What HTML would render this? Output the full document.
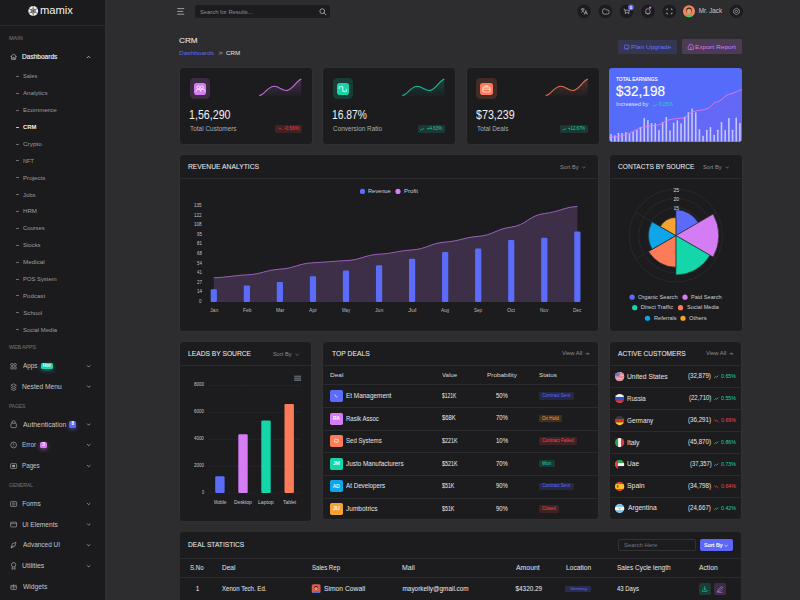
<!DOCTYPE html>
<html><head><meta charset="utf-8"><style>
html,body{margin:0;padding:0;}
body{width:800px;height:600px;overflow:hidden;background:#2d2d30;position:relative;font-family:"Liberation Sans", sans-serif;}
.t{position:absolute;white-space:nowrap;line-height:1;transform-origin:0 0;}
.b{position:absolute;}
svg.ov{position:absolute;left:0;top:0;}
</style></head><body>
<div class="b" style="left:0.00px;top:0.00px;width:105.00px;height:600.00px;background:#1b1b1e;border-radius:0px;"></div>
<div class="b" style="left:105.00px;top:0.00px;width:1.50px;height:600.00px;background:#302f34;border-radius:0px;"></div>
<div class="b" style="left:0.00px;top:25.00px;width:105.00px;height:0.80px;background:#28282b;border-radius:0px;"></div>
<div class="t" style="left:39.82px;top:5.06px;font-size:10.8px;color:#f0f0f0;transform:scaleX(1.036);">mamix</div>
<div class="t" style="left:8.52px;top:36.59px;font-size:4.5px;color:#66666b;transform:scaleX(1.206);-webkit-text-stroke:0.12px #66666b;">MAIN</div>
<div class="t" style="left:22.33px;top:53.71px;font-size:6.6px;color:#ececee;transform:scaleX(0.994);-webkit-text-stroke:0.15px #ececee;">Dashboards</div>
<div class="b" style="left:15.60px;top:76.00px;width:3.30px;height:0.70px;background:#6e6e73;border-radius:0px;"></div>
<div class="t" style="left:23.19px;top:73.45px;font-size:6.2px;color:#9b9ba0;transform:scaleX(0.920);">Sales</div>
<div class="b" style="left:15.60px;top:92.88px;width:3.30px;height:0.70px;background:#6e6e73;border-radius:0px;"></div>
<div class="t" style="left:23.45px;top:90.33px;font-size:6.2px;color:#9b9ba0;transform:scaleX(0.988);">Analytics</div>
<div class="b" style="left:15.60px;top:109.76px;width:3.30px;height:0.70px;background:#6e6e73;border-radius:0px;"></div>
<div class="t" style="left:22.94px;top:107.21px;font-size:6.2px;color:#9b9ba0;transform:scaleX(1.022);">Ecommerce</div>
<div class="b" style="left:15.60px;top:126.64px;width:3.30px;height:0.70px;background:#c0c0c4;border-radius:0px;"></div>
<div class="t" style="left:23.21px;top:124.09px;font-size:6.2px;color:#f0f0f2;font-weight:700;transform:scaleX(0.951);">CRM</div>
<div class="b" style="left:15.60px;top:143.52px;width:3.30px;height:0.70px;background:#6e6e73;border-radius:0px;"></div>
<div class="t" style="left:23.13px;top:140.97px;font-size:6.2px;color:#9b9ba0;transform:scaleX(1.034);">Crypto</div>
<div class="b" style="left:15.60px;top:160.40px;width:3.30px;height:0.70px;background:#6e6e73;border-radius:0px;"></div>
<div class="t" style="left:23.00px;top:157.85px;font-size:6.2px;color:#9b9ba0;transform:scaleX(0.900);">NFT</div>
<div class="b" style="left:15.60px;top:177.28px;width:3.30px;height:0.70px;background:#6e6e73;border-radius:0px;"></div>
<div class="t" style="left:22.96px;top:174.73px;font-size:6.2px;color:#9b9ba0;">Projects</div>
<div class="b" style="left:15.60px;top:194.16px;width:3.30px;height:0.70px;background:#6e6e73;border-radius:0px;"></div>
<div class="t" style="left:23.36px;top:191.61px;font-size:6.2px;color:#9b9ba0;transform:scaleX(0.947);">Jobs</div>
<div class="b" style="left:15.60px;top:211.04px;width:3.30px;height:0.70px;background:#6e6e73;border-radius:0px;"></div>
<div class="t" style="left:22.95px;top:208.49px;font-size:6.2px;color:#9b9ba0;">HRM</div>
<div class="b" style="left:15.60px;top:227.92px;width:3.30px;height:0.70px;background:#6e6e73;border-radius:0px;"></div>
<div class="t" style="left:23.16px;top:225.37px;font-size:6.2px;color:#9b9ba0;transform:scaleX(0.935);">Courses</div>
<div class="b" style="left:15.60px;top:244.80px;width:3.30px;height:0.70px;background:#6e6e73;border-radius:0px;"></div>
<div class="t" style="left:23.19px;top:242.25px;font-size:6.2px;color:#9b9ba0;transform:scaleX(0.945);">Stocks</div>
<div class="b" style="left:15.60px;top:261.68px;width:3.30px;height:0.70px;background:#6e6e73;border-radius:0px;"></div>
<div class="t" style="left:22.95px;top:259.13px;font-size:6.2px;color:#9b9ba0;transform:scaleX(1.017);">Medical</div>
<div class="b" style="left:15.60px;top:278.56px;width:3.30px;height:0.70px;background:#6e6e73;border-radius:0px;"></div>
<div class="t" style="left:22.98px;top:276.01px;font-size:6.2px;color:#9b9ba0;transform:scaleX(0.948);">POS System</div>
<div class="b" style="left:15.60px;top:295.44px;width:3.30px;height:0.70px;background:#6e6e73;border-radius:0px;"></div>
<div class="t" style="left:22.96px;top:292.89px;font-size:6.2px;color:#9b9ba0;transform:scaleX(0.988);">Podcast</div>
<div class="b" style="left:15.60px;top:312.32px;width:3.30px;height:0.70px;background:#6e6e73;border-radius:0px;"></div>
<div class="t" style="left:23.17px;top:309.77px;font-size:6.2px;color:#9b9ba0;">School</div>
<div class="b" style="left:15.60px;top:329.20px;width:3.30px;height:0.70px;background:#6e6e73;border-radius:0px;"></div>
<div class="t" style="left:23.18px;top:326.65px;font-size:6.2px;color:#9b9ba0;transform:scaleX(0.960);">Social Media</div>
<div class="t" style="left:8.92px;top:346.29px;font-size:4.5px;color:#66666b;transform:scaleX(1.160);-webkit-text-stroke:0.12px #66666b;">WEB APPS</div>
<div class="t" style="left:22.75px;top:363.41px;font-size:6.6px;color:#c4c4c8;transform:scaleX(0.965);">Apps</div>
<div class="b" style="left:40.50px;top:363.10px;width:12.50px;height:6.30px;background:#14d6ab;border-radius:1.5px;box-shadow:0 1.5px 4px rgba(31,213,173,0.45);"></div>
<div class="t" style="left:42.80px;top:364.11px;font-size:4.6px;color:#ffffff;font-weight:700;">Hot</div>
<div class="t" style="left:22.21px;top:383.71px;font-size:6.6px;color:#c4c4c8;transform:scaleX(1.014);">Nested Menu</div>
<div class="t" style="left:8.56px;top:404.59px;font-size:4.5px;color:#66666b;transform:scaleX(1.075);-webkit-text-stroke:0.12px #66666b;">PAGES</div>
<div class="t" style="left:22.75px;top:421.61px;font-size:6.6px;color:#c4c4c8;transform:scaleX(1.039);">Authentication</div>
<div class="b" style="left:69.30px;top:421.30px;width:7.00px;height:6.30px;background:#5c67f7;border-radius:1.5px;box-shadow:0 1.5px 4px rgba(92,103,247,0.5);"></div>
<div class="t" style="left:71.52px;top:422.31px;font-size:4.6px;color:#ffffff;font-weight:700;">8</div>
<div class="t" style="left:22.24px;top:442.11px;font-size:6.6px;color:#c4c4c8;transform:scaleX(0.963);">Error</div>
<div class="b" style="left:40.00px;top:442.00px;width:6.80px;height:6.30px;background:#d57cf5;border-radius:1.5px;box-shadow:0 1.5px 4px rgba(213,124,245,0.5);"></div>
<div class="t" style="left:42.15px;top:443.01px;font-size:4.6px;color:#ffffff;font-weight:700;">3</div>
<div class="t" style="left:22.25px;top:463.11px;font-size:6.6px;color:#c4c4c8;transform:scaleX(0.947);">Pages</div>
<div class="t" style="left:8.70px;top:484.19px;font-size:4.5px;color:#66666b;transform:scaleX(1.111);-webkit-text-stroke:0.12px #66666b;">GENERAL</div>
<div class="t" style="left:22.22px;top:501.11px;font-size:6.6px;color:#c4c4c8;">Forms</div>
<div class="t" style="left:22.25px;top:521.61px;font-size:6.6px;color:#c4c4c8;">Ui Elements</div>
<div class="t" style="left:22.75px;top:542.31px;font-size:6.6px;color:#c4c4c8;transform:scaleX(0.981);">Advanced UI</div>
<div class="t" style="left:22.23px;top:563.31px;font-size:6.6px;color:#c4c4c8;transform:scaleX(1.046);">Utilities</div>
<div class="t" style="left:22.72px;top:584.11px;font-size:6.6px;color:#c4c4c8;transform:scaleX(1.019);">Widgets</div>
<div class="b" style="left:195.10px;top:4.90px;width:134.90px;height:13.40px;background:#1c1c1f;border-radius:2.5px;"></div>
<div class="t" style="left:199.89px;top:9.74px;font-size:5.5px;color:#8e8e94;transform:scaleX(1.056);">Search for Results...</div>
<div class="t" style="left:698.65px;top:8.37px;font-size:6.3px;color:#c9c9ce;">Mr. Jack</div>
<div class="t" style="left:178.84px;top:37.04px;font-size:8.1px;color:#ececee;transform:scaleX(1.007);-webkit-text-stroke:0.08px #ececee;">CRM</div>
<div class="t" style="left:178.73px;top:50.22px;font-size:6.0px;color:#5c67f7;transform:scaleX(1.084);">Dashboards</div>
<div class="t" style="left:226.44px;top:50.22px;font-size:6.0px;color:#e6e6e8;transform:scaleX(1.033);">CRM</div>
<div class="b" style="left:618.40px;top:39.90px;width:58.60px;height:13.80px;background:rgba(92,103,247,0.17);border-radius:1.5px;"></div>
<div class="t" style="left:631.32px;top:43.75px;font-size:6.2px;color:#6a74f8;transform:scaleX(1.061);">Plan Upgrade</div>
<div class="b" style="left:682.30px;top:39.40px;width:59.50px;height:14.85px;background:rgba(213,124,245,0.19);border-radius:1.5px;"></div>
<div class="t" style="left:695.22px;top:43.75px;font-size:6.2px;color:#d57cf5;transform:scaleX(1.069);">Export Report</div>
<div class="b" style="left:180.00px;top:68.20px;width:132.00px;height:75.80px;background:#1c1c1f;border-radius:3.5px;box-shadow:0 0 0 0.7px rgba(255,255,255,0.025);"></div>
<div class="b" style="left:189.75px;top:78.20px;width:20.35px;height:20.70px;background:#d57cf5;border-radius:4.5px;opacity:0.17;"></div>
<div class="b" style="left:193.90px;top:82.75px;width:12.20px;height:12.15px;background:#d57cf5;border-radius:2.8px;"></div>
<div class="t" style="left:188.85px;top:108.84px;font-size:12.0px;color:#f0f0f2;transform:scaleX(0.888);">1,56,290</div>
<div class="t" style="left:190.22px;top:126.48px;font-size:6.4px;color:#ababb0;transform:scaleX(1.009);">Total Customers</div>
<div class="b" style="left:275.25px;top:125.30px;width:26.25px;height:7.60px;background:rgba(251,66,66,0.17);border-radius:1.2px;"></div>
<div class="t" style="left:283.63px;top:127.01px;font-size:4.6px;color:#f03e3e;transform:scaleX(1.041);">-0.56%</div>
<div class="b" style="left:323.00px;top:68.20px;width:132.00px;height:75.80px;background:#1c1c1f;border-radius:3.5px;box-shadow:0 0 0 0.7px rgba(255,255,255,0.025);"></div>
<div class="b" style="left:332.75px;top:78.20px;width:20.35px;height:20.70px;background:#14d6ab;border-radius:4.5px;opacity:0.17;"></div>
<div class="b" style="left:336.90px;top:82.75px;width:12.20px;height:12.15px;background:#14d6ab;border-radius:2.8px;"></div>
<div class="t" style="left:331.88px;top:108.84px;font-size:12.0px;color:#f0f0f2;transform:scaleX(0.857);">16.87%</div>
<div class="t" style="left:333.03px;top:126.48px;font-size:6.4px;color:#ababb0;">Conversion Ratio</div>
<div class="b" style="left:417.50px;top:125.30px;width:27.00px;height:7.60px;background:rgba(31,213,173,0.15);border-radius:1.2px;"></div>
<div class="t" style="left:426.63px;top:127.01px;font-size:4.6px;color:#14d6ab;transform:scaleX(0.965);">+4.63%</div>
<div class="b" style="left:466.50px;top:68.20px;width:132.00px;height:75.80px;background:#1c1c1f;border-radius:3.5px;box-shadow:0 0 0 0.7px rgba(255,255,255,0.025);"></div>
<div class="b" style="left:476.25px;top:78.20px;width:20.35px;height:20.70px;background:#fe7b58;border-radius:4.5px;opacity:0.17;"></div>
<div class="b" style="left:480.40px;top:82.75px;width:12.20px;height:12.15px;background:#fe7b58;border-radius:2.8px;"></div>
<div class="t" style="left:476.04px;top:108.84px;font-size:12.0px;color:#f0f0f2;transform:scaleX(0.890);">$73,239</div>
<div class="t" style="left:476.72px;top:126.48px;font-size:6.4px;color:#ababb0;transform:scaleX(0.991);">Total Deals</div>
<div class="b" style="left:560.00px;top:125.30px;width:28.00px;height:7.60px;background:rgba(31,213,173,0.15);border-radius:1.2px;"></div>
<div class="t" style="left:568.13px;top:127.01px;font-size:4.6px;color:#14d6ab;transform:scaleX(0.939);">+12.67%</div>
<div class="b" style="left:609.00px;top:68.00px;width:133.00px;height:73.60px;background:#556cfb;border-radius:3px;"></div>
<div class="t" style="left:616.45px;top:76.77px;font-size:5.0px;color:#ffffff;transform:scaleX(0.969);-webkit-text-stroke:0.12px #fff;">TOTAL EARNINGS</div>
<div class="t" style="left:616.21px;top:84.73px;font-size:13.9px;color:#ffffff;transform:scaleX(0.975);-webkit-text-stroke:0.15px #fff;">$32,198</div>
<div class="t" style="left:616.04px;top:102.29px;font-size:5.8px;color:#dfe2ff;transform:scaleX(0.973);">Increased by</div>
<div class="t" style="left:659.36px;top:102.29px;font-size:5.8px;color:#22d8b0;transform:scaleX(0.831);">0.25%</div>
<div class="b" style="left:180.00px;top:155.20px;width:417.80px;height:175.60px;background:#1c1c1f;border-radius:3.5px;box-shadow:0 0 0 0.7px rgba(255,255,255,0.025);"></div>
<div class="b" style="left:180.00px;top:178.00px;width:417.80px;height:0.80px;background:#2b2b2f;border-radius:0px;"></div>
<div class="t" style="left:188.11px;top:163.12px;font-size:7.6px;color:#ececee;transform:scaleX(0.887);-webkit-text-stroke:0.04px #ececee;">REVENUE ANALYTICS</div>
<div class="t" style="left:559.80px;top:164.66px;font-size:5.6px;color:#8e8e94;transform:scaleX(1.010);">Sort By</div>
<div class="t" style="left:368.40px;top:189.19px;font-size:5.8px;color:#d0d0d4;transform:scaleX(0.970);">Revenue</div>
<div class="t" style="left:403.88px;top:189.19px;font-size:5.8px;color:#d0d0d4;transform:scaleX(1.021);">Profit</div>
<div class="t" style="left:194.01px;top:203.04px;font-size:5.5px;color:#c3c3c8;transform:scaleX(0.821);">135</div>
<div class="t" style="left:194.01px;top:212.62px;font-size:5.5px;color:#c3c3c8;transform:scaleX(0.826);">122</div>
<div class="t" style="left:194.01px;top:222.20px;font-size:5.5px;color:#c3c3c8;transform:scaleX(0.821);">108</div>
<div class="t" style="left:196.65px;top:231.78px;font-size:5.5px;color:#c3c3c8;transform:scaleX(0.798);">95</div>
<div class="t" style="left:196.65px;top:241.36px;font-size:5.5px;color:#c3c3c8;transform:scaleX(0.802);">81</div>
<div class="t" style="left:196.63px;top:250.94px;font-size:5.5px;color:#c3c3c8;transform:scaleX(0.802);">68</div>
<div class="t" style="left:196.68px;top:260.52px;font-size:5.5px;color:#c3c3c8;transform:scaleX(0.787);">54</div>
<div class="t" style="left:196.76px;top:270.10px;font-size:5.5px;color:#c3c3c8;transform:scaleX(0.783);">41</div>
<div class="t" style="left:196.63px;top:279.68px;font-size:5.5px;color:#c3c3c8;transform:scaleX(0.810);">27</div>
<div class="t" style="left:196.51px;top:289.26px;font-size:5.5px;color:#c3c3c8;transform:scaleX(0.814);">14</div>
<div class="t" style="left:199.07px;top:298.84px;font-size:5.5px;color:#c3c3c8;transform:scaleX(0.795);">0</div>
<div class="t" style="left:209.82px;top:307.99px;font-size:5.8px;color:#b8b8bd;transform:scaleX(0.879);">Jan</div>
<div class="t" style="left:242.56px;top:307.99px;font-size:5.8px;color:#b8b8bd;transform:scaleX(0.841);">Feb</div>
<div class="t" style="left:275.62px;top:307.99px;font-size:5.8px;color:#b8b8bd;transform:scaleX(0.828);">Mar</div>
<div class="t" style="left:309.05px;top:307.99px;font-size:5.8px;color:#b8b8bd;transform:scaleX(0.873);">Apr</div>
<div class="t" style="left:341.76px;top:307.99px;font-size:5.8px;color:#b8b8bd;transform:scaleX(0.743);">May</div>
<div class="t" style="left:375.07px;top:307.99px;font-size:5.8px;color:#b8b8bd;transform:scaleX(0.879);">Jun</div>
<div class="t" style="left:408.10px;top:307.99px;font-size:5.8px;color:#b8b8bd;transform:scaleX(1.125);">Jul</div>
<div class="t" style="left:441.25px;top:307.99px;font-size:5.8px;color:#b8b8bd;transform:scaleX(0.784);">Aug</div>
<div class="t" style="left:474.09px;top:307.99px;font-size:5.8px;color:#b8b8bd;transform:scaleX(0.793);">Sep</div>
<div class="t" style="left:507.12px;top:307.99px;font-size:5.8px;color:#b8b8bd;transform:scaleX(0.894);">Oct</div>
<div class="t" style="left:540.03px;top:307.99px;font-size:5.8px;color:#b8b8bd;transform:scaleX(0.793);">Nov</div>
<div class="t" style="left:573.08px;top:307.99px;font-size:5.8px;color:#b8b8bd;transform:scaleX(0.803);">Dec</div>
<div class="b" style="left:609.50px;top:155.00px;width:132.00px;height:175.80px;background:#1c1c1f;border-radius:3.5px;box-shadow:0 0 0 0.7px rgba(255,255,255,0.025);"></div>
<div class="b" style="left:609.50px;top:178.00px;width:132.00px;height:0.80px;background:#2b2b2f;border-radius:0px;"></div>
<div class="t" style="left:618.02px;top:163.02px;font-size:7.6px;color:#ececee;transform:scaleX(0.870);-webkit-text-stroke:0.04px #ececee;">CONTACTS BY SOURCE</div>
<div class="t" style="left:703.10px;top:164.66px;font-size:5.6px;color:#8e8e94;transform:scaleX(1.010);">Sort By</div>
<div class="t" style="left:638.29px;top:294.89px;font-size:5.8px;color:#cfcfd3;transform:scaleX(0.984);">Organic Search</div>
<div class="t" style="left:691.00px;top:294.89px;font-size:5.8px;color:#cfcfd3;transform:scaleX(0.969);">Paid Search</div>
<div class="t" style="left:640.69px;top:305.39px;font-size:5.8px;color:#cfcfd3;">Direct Traffic</div>
<div class="t" style="left:686.70px;top:305.39px;font-size:5.8px;color:#cfcfd3;transform:scaleX(0.959);">Social Media</div>
<div class="t" style="left:653.50px;top:315.94px;font-size:5.8px;color:#cfcfd3;transform:scaleX(0.963);">Referrals</div>
<div class="t" style="left:689.19px;top:315.94px;font-size:5.8px;color:#cfcfd3;transform:scaleX(1.010);">Others</div>
<div class="b" style="left:179.80px;top:342.30px;width:131.70px;height:178.30px;background:#1c1c1f;border-radius:3.5px;box-shadow:0 0 0 0.7px rgba(255,255,255,0.025);"></div>
<div class="b" style="left:179.80px;top:364.70px;width:131.70px;height:0.80px;background:#2b2b2f;border-radius:0px;"></div>
<div class="t" style="left:187.81px;top:350.02px;font-size:7.6px;color:#ececee;transform:scaleX(0.880);-webkit-text-stroke:0.04px #ececee;">LEADS BY SOURCE</div>
<div class="t" style="left:273.10px;top:351.86px;font-size:5.6px;color:#8e8e94;transform:scaleX(1.010);">Sort By</div>
<div class="t" style="left:194.05px;top:383.31px;font-size:4.6px;color:#c8c8cc;transform:scaleX(0.973);">8000</div>
<div class="t" style="left:194.03px;top:410.16px;font-size:4.6px;color:#c8c8cc;transform:scaleX(0.975);">6000</div>
<div class="t" style="left:194.16px;top:437.01px;font-size:4.6px;color:#c8c8cc;transform:scaleX(0.962);">4000</div>
<div class="t" style="left:194.03px;top:463.86px;font-size:4.6px;color:#c8c8cc;transform:scaleX(0.975);">2000</div>
<div class="t" style="left:201.79px;top:490.71px;font-size:4.6px;color:#c8c8cc;transform:scaleX(0.861);">0</div>
<div class="t" style="left:213.67px;top:500.27px;font-size:5.0px;color:#c8c8cc;transform:scaleX(0.837);">Mobile</div>
<div class="t" style="left:234.06px;top:500.27px;font-size:5.0px;color:#c8c8cc;transform:scaleX(0.965);">Desktop</div>
<div class="t" style="left:258.09px;top:500.27px;font-size:5.0px;color:#c8c8cc;transform:scaleX(1.020);">Laptop</div>
<div class="t" style="left:282.65px;top:500.27px;font-size:5.0px;color:#c8c8cc;transform:scaleX(0.977);">Tablet</div>
<div class="b" style="left:323.20px;top:342.00px;width:274.80px;height:177.30px;background:#1c1c1f;border-radius:3.5px;box-shadow:0 0 0 0.7px rgba(255,255,255,0.025);"></div>
<div class="b" style="left:323.20px;top:364.70px;width:274.80px;height:0.80px;background:#2b2b2f;border-radius:0px;"></div>
<div class="t" style="left:331.71px;top:349.87px;font-size:7.6px;color:#ececee;transform:scaleX(0.891);-webkit-text-stroke:0.04px #ececee;">TOP DEALS</div>
<div class="t" style="left:562.32px;top:350.86px;font-size:5.6px;color:#8e8e94;transform:scaleX(1.037);">View All</div>
<div class="t" style="left:330.43px;top:372.99px;font-size:5.8px;color:#d8d8dc;transform:scaleX(1.128);">Deal</div>
<div class="t" style="left:442.02px;top:372.99px;font-size:5.8px;color:#d8d8dc;transform:scaleX(1.050);">Value</div>
<div class="t" style="left:486.84px;top:372.99px;font-size:5.8px;color:#d8d8dc;transform:scaleX(1.104);">Probability</div>
<div class="t" style="left:538.87px;top:372.99px;font-size:5.8px;color:#d8d8dc;transform:scaleX(1.089);">Status</div>
<div class="b" style="left:323.20px;top:384.10px;width:274.80px;height:0.80px;background:#2b2b2f;border-radius:0px;"></div>
<div class="b" style="left:323.20px;top:407.10px;width:274.80px;height:0.80px;background:#2b2b2f;border-radius:0px;"></div>
<div class="b" style="left:330.25px;top:389.90px;width:12.25px;height:12.10px;background:#5c6cfa;border-radius:1.8px;"></div>
<div class="t" style="left:345.84px;top:392.92px;font-size:6.3px;color:#e6e6e8;transform:scaleX(1.020);">Et Management</div>
<div class="t" style="left:442.00px;top:392.76px;font-size:6.6px;color:#ececee;transform:scaleX(0.750);">$121K</div>
<div class="t" style="left:496.01px;top:392.76px;font-size:6.6px;color:#ececee;transform:scaleX(0.897);">50%</div>
<div class="b" style="left:538.80px;top:392.10px;width:35.10px;height:7.50px;background:#5c6cfa;border-radius:1.2px;opacity:0.16;"></div>
<div class="t" style="left:542.17px;top:393.91px;font-size:4.6px;color:#5c6cfa;">Contract Sent</div>
<div class="b" style="left:323.20px;top:429.70px;width:274.80px;height:0.80px;background:#2b2b2f;border-radius:0px;"></div>
<div class="b" style="left:330.25px;top:412.50px;width:12.25px;height:12.10px;background:#d57cf5;border-radius:1.8px;"></div>
<div class="t" style="left:332.76px;top:416.71px;font-size:4.6px;color:#ffffff;transform:scaleX(1.049);-webkit-text-stroke:0.1px #fff;">RA</div>
<div class="t" style="left:345.87px;top:415.52px;font-size:6.3px;color:#e6e6e8;transform:scaleX(0.957);">Rasik Assoc</div>
<div class="t" style="left:441.99px;top:415.36px;font-size:6.6px;color:#ececee;transform:scaleX(0.890);">$68K</div>
<div class="t" style="left:495.95px;top:415.36px;font-size:6.6px;color:#ececee;transform:scaleX(0.902);">70%</div>
<div class="b" style="left:538.80px;top:414.70px;width:23.40px;height:7.50px;background:#f5a331;border-radius:1.2px;opacity:0.16;"></div>
<div class="t" style="left:542.19px;top:416.51px;font-size:4.6px;color:#f5a331;transform:scaleX(0.991);">On Hold</div>
<div class="b" style="left:323.20px;top:452.30px;width:274.80px;height:0.80px;background:#2b2b2f;border-radius:0px;"></div>
<div class="b" style="left:330.25px;top:435.10px;width:12.25px;height:12.10px;background:#fe7b58;border-radius:1.8px;"></div>
<div class="t" style="left:346.08px;top:438.12px;font-size:6.3px;color:#e6e6e8;transform:scaleX(0.962);">Sed Systems</div>
<div class="t" style="left:442.00px;top:437.96px;font-size:6.6px;color:#ececee;transform:scaleX(0.824);">$221K</div>
<div class="t" style="left:495.80px;top:437.96px;font-size:6.6px;color:#ececee;transform:scaleX(0.914);">10%</div>
<div class="b" style="left:538.80px;top:437.30px;width:38.40px;height:7.50px;background:#fb4242;border-radius:1.2px;opacity:0.16;"></div>
<div class="t" style="left:542.17px;top:439.11px;font-size:4.6px;color:#fb4242;transform:scaleX(1.018);">Contract Failed</div>
<div class="b" style="left:323.20px;top:474.90px;width:274.80px;height:0.80px;background:#2b2b2f;border-radius:0px;"></div>
<div class="b" style="left:330.25px;top:457.70px;width:12.25px;height:12.10px;background:#14d6ab;border-radius:1.8px;"></div>
<div class="t" style="left:333.07px;top:461.91px;font-size:4.6px;color:#ffffff;transform:scaleX(1.109);-webkit-text-stroke:0.1px #fff;">JM</div>
<div class="t" style="left:346.25px;top:460.72px;font-size:6.3px;color:#e6e6e8;transform:scaleX(1.011);">Justo Manufacturers</div>
<div class="t" style="left:442.00px;top:460.56px;font-size:6.6px;color:#ececee;transform:scaleX(0.824);">$521K</div>
<div class="t" style="left:495.95px;top:460.56px;font-size:6.6px;color:#ececee;transform:scaleX(0.902);">70%</div>
<div class="b" style="left:538.80px;top:459.90px;width:16.10px;height:7.50px;background:#14d6ab;border-radius:1.2px;opacity:0.16;"></div>
<div class="t" style="left:542.38px;top:461.71px;font-size:4.6px;color:#14d6ab;transform:scaleX(0.985);">Won</div>
<div class="b" style="left:323.20px;top:497.50px;width:274.80px;height:0.80px;background:#2b2b2f;border-radius:0px;"></div>
<div class="b" style="left:330.25px;top:480.30px;width:12.25px;height:12.10px;background:#0ea5e9;border-radius:1.8px;"></div>
<div class="t" style="left:333.15px;top:484.51px;font-size:4.6px;color:#ffffff;transform:scaleX(1.022);-webkit-text-stroke:0.1px #fff;">AD</div>
<div class="t" style="left:346.35px;top:483.32px;font-size:6.3px;color:#e6e6e8;transform:scaleX(0.991);">At Developers</div>
<div class="t" style="left:442.00px;top:483.16px;font-size:6.6px;color:#ececee;transform:scaleX(0.805);">$51K</div>
<div class="t" style="left:495.98px;top:483.16px;font-size:6.6px;color:#ececee;transform:scaleX(0.900);">90%</div>
<div class="b" style="left:538.80px;top:482.50px;width:35.10px;height:7.50px;background:#5c6cfa;border-radius:1.2px;opacity:0.16;"></div>
<div class="t" style="left:542.17px;top:484.31px;font-size:4.6px;color:#5c6cfa;">Contract Sent</div>
<div class="b" style="left:330.25px;top:502.90px;width:12.25px;height:12.10px;background:#f5a331;border-radius:1.8px;"></div>
<div class="t" style="left:333.07px;top:507.11px;font-size:4.6px;color:#ffffff;transform:scaleX(1.212);-webkit-text-stroke:0.1px #fff;">JU</div>
<div class="t" style="left:346.25px;top:505.92px;font-size:6.3px;color:#e6e6e8;transform:scaleX(1.038);">Jumbotrics</div>
<div class="t" style="left:442.00px;top:505.76px;font-size:6.6px;color:#ececee;transform:scaleX(0.805);">$51K</div>
<div class="t" style="left:495.98px;top:505.76px;font-size:6.6px;color:#ececee;transform:scaleX(0.900);">90%</div>
<div class="b" style="left:538.80px;top:505.10px;width:20.40px;height:7.50px;background:#fb4242;border-radius:1.2px;opacity:0.16;"></div>
<div class="t" style="left:542.18px;top:506.91px;font-size:4.6px;color:#fb4242;transform:scaleX(0.958);">Closed</div>
<div class="b" style="left:609.70px;top:342.00px;width:131.70px;height:176.60px;background:#1c1c1f;border-radius:3.5px;box-shadow:0 0 0 0.7px rgba(255,255,255,0.025);"></div>
<div class="b" style="left:609.70px;top:364.70px;width:131.70px;height:0.80px;background:#2b2b2f;border-radius:0px;"></div>
<div class="t" style="left:618.35px;top:349.87px;font-size:7.6px;color:#ececee;transform:scaleX(0.867);-webkit-text-stroke:0.04px #ececee;">ACTIVE CUSTOMERS</div>
<div class="t" style="left:706.32px;top:350.86px;font-size:5.6px;color:#8e8e94;transform:scaleX(1.037);">View All</div>
<div class="b" style="left:609.70px;top:387.20px;width:131.70px;height:0.80px;background:#2b2b2f;border-radius:0px;"></div>
<div class="t" style="left:627.24px;top:373.57px;font-size:6.3px;color:#e6e6e8;transform:scaleX(1.072);">United States</div>
<div class="t" style="left:688.38px;top:373.29px;font-size:6.8px;color:#e6e6e8;transform:scaleX(0.903);">(32,879)</div>
<div class="t" style="left:720.64px;top:374.04px;font-size:5.5px;color:#14d6ab;transform:scaleX(0.955);">0.65%</div>
<div class="b" style="left:609.70px;top:409.18px;width:131.70px;height:0.80px;background:#2b2b2f;border-radius:0px;"></div>
<div class="t" style="left:627.26px;top:395.55px;font-size:6.3px;color:#e6e6e8;transform:scaleX(0.976);">Russia</div>
<div class="t" style="left:688.89px;top:395.27px;font-size:6.8px;color:#e6e6e8;transform:scaleX(0.882);">(22,710)</div>
<div class="t" style="left:720.64px;top:396.02px;font-size:5.5px;color:#14d6ab;transform:scaleX(0.955);">0.55%</div>
<div class="b" style="left:609.70px;top:431.16px;width:131.70px;height:0.80px;background:#2b2b2f;border-radius:0px;"></div>
<div class="t" style="left:627.43px;top:417.53px;font-size:6.3px;color:#e6e6e8;transform:scaleX(1.009);">Germany</div>
<div class="t" style="left:688.18px;top:417.25px;font-size:6.8px;color:#e6e6e8;transform:scaleX(0.911);">(36,291)</div>
<div class="t" style="left:720.64px;top:418.00px;font-size:5.5px;color:#f04848;transform:scaleX(0.955);">0.69%</div>
<div class="b" style="left:609.70px;top:453.14px;width:131.70px;height:0.80px;background:#2b2b2f;border-radius:0px;"></div>
<div class="t" style="left:627.14px;top:439.51px;font-size:6.3px;color:#e6e6e8;transform:scaleX(1.082);">Italy</div>
<div class="t" style="left:688.18px;top:439.23px;font-size:6.8px;color:#e6e6e8;transform:scaleX(0.911);">(45,870)</div>
<div class="t" style="left:720.64px;top:439.98px;font-size:5.5px;color:#14d6ab;transform:scaleX(0.955);">0.86%</div>
<div class="b" style="left:609.70px;top:475.12px;width:131.70px;height:0.80px;background:#2b2b2f;border-radius:0px;"></div>
<div class="t" style="left:627.26px;top:461.49px;font-size:6.3px;color:#e6e6e8;transform:scaleX(1.046);">Uae</div>
<div class="t" style="left:689.60px;top:461.21px;font-size:6.8px;color:#e6e6e8;transform:scaleX(0.854);">(37,357)</div>
<div class="t" style="left:720.64px;top:461.96px;font-size:5.5px;color:#14d6ab;transform:scaleX(0.955);">0.73%</div>
<div class="b" style="left:609.70px;top:497.10px;width:131.70px;height:0.80px;background:#2b2b2f;border-radius:0px;"></div>
<div class="t" style="left:627.44px;top:483.47px;font-size:6.3px;color:#e6e6e8;transform:scaleX(1.091);">Spain</div>
<div class="t" style="left:688.18px;top:483.19px;font-size:6.8px;color:#e6e6e8;transform:scaleX(0.911);">(34,798)</div>
<div class="t" style="left:720.64px;top:483.94px;font-size:5.5px;color:#f04848;transform:scaleX(0.955);">0.64%</div>
<div class="t" style="left:627.75px;top:505.45px;font-size:6.3px;color:#e6e6e8;transform:scaleX(1.061);">Argentina</div>
<div class="t" style="left:688.38px;top:505.17px;font-size:6.8px;color:#e6e6e8;transform:scaleX(0.903);">(24,667)</div>
<div class="t" style="left:720.64px;top:505.92px;font-size:5.5px;color:#14d6ab;transform:scaleX(0.955);">0.42%</div>
<div class="b" style="left:180.00px;top:532.30px;width:561.30px;height:73.70px;background:#1c1c1f;border-radius:3px;"></div>
<div class="b" style="left:180.00px;top:558.10px;width:561.30px;height:0.80px;background:#2b2b2f;border-radius:0px;"></div>
<div class="t" style="left:188.12px;top:541.17px;font-size:7.6px;color:#ececee;transform:scaleX(0.874);-webkit-text-stroke:0.04px #ececee;">DEAL STATISTICS</div>
<div class="b" style="left:618.10px;top:539.00px;width:78.30px;height:12.40px;background:#1c1c1f;border-radius:2px;border:0.8px solid #323236;box-sizing:border-box;"></div>
<div class="t" style="left:624.18px;top:542.56px;font-size:5.6px;color:#76767c;transform:scaleX(1.060);">Search Here</div>
<div class="b" style="left:699.90px;top:539.00px;width:33.30px;height:12.40px;background:#5c67f7;border-radius:2px;"></div>
<div class="t" style="left:703.80px;top:542.51px;font-size:5.9px;color:#ffffff;transform:scaleX(0.959);-webkit-text-stroke:0.15px #fff;">Sort By</div>
<div class="t" style="left:190.08px;top:564.67px;font-size:6.3px;color:#e4e4e8;transform:scaleX(0.967);">S.No</div>
<div class="t" style="left:221.58px;top:564.67px;font-size:6.3px;color:#e4e4e8;transform:scaleX(1.039);">Deal</div>
<div class="t" style="left:311.83px;top:564.67px;font-size:6.3px;color:#e4e4e8;transform:scaleX(0.964);">Sales Rep</div>
<div class="t" style="left:402.39px;top:564.67px;font-size:6.3px;color:#e4e4e8;transform:scaleX(1.102);">Mail</div>
<div class="t" style="left:515.55px;top:564.67px;font-size:6.3px;color:#e4e4e8;transform:scaleX(1.094);">Amount</div>
<div class="t" style="left:565.72px;top:564.67px;font-size:6.3px;color:#e4e4e8;transform:scaleX(1.057);">Location</div>
<div class="t" style="left:616.76px;top:564.67px;font-size:6.3px;color:#e4e4e8;transform:scaleX(1.028);">Sales Cycle length</div>
<div class="t" style="left:699.15px;top:564.67px;font-size:6.3px;color:#e4e4e8;transform:scaleX(1.070);">Action</div>
<div class="b" style="left:180.00px;top:577.10px;width:561.30px;height:0.80px;background:#2b2b2f;border-radius:0px;"></div>
<div class="t" style="left:195.77px;top:585.68px;font-size:6.4px;color:#ececee;">1</div>
<div class="t" style="left:221.95px;top:585.68px;font-size:6.4px;color:#ececee;transform:scaleX(0.950);">Xenon Tech. Ed.</div>
<div class="t" style="left:323.80px;top:585.68px;font-size:6.4px;color:#e6e6e8;transform:scaleX(1.055);">Simon Cowall</div>
<div class="t" style="left:402.53px;top:585.68px;font-size:6.4px;color:#ececee;">mayorkelly@gmail.com</div>
<div class="t" style="left:515.49px;top:585.68px;font-size:6.4px;color:#ececee;">$4320.29</div>
<div class="b" style="left:565.30px;top:585.70px;width:25.70px;height:6.80px;background:rgba(92,103,247,0.22);border-radius:1.2px;"></div>
<div class="t" style="left:569.54px;top:586.78px;font-size:4.4px;color:#6570f7;transform:scaleX(0.940);">Germany</div>
<div class="t" style="left:616.93px;top:585.68px;font-size:6.4px;color:#ececee;transform:scaleX(0.934);">43 Days</div>
<div class="b" style="left:698.80px;top:582.90px;width:11.80px;height:11.80px;background:rgba(31,213,173,0.17);border-radius:1.8px;"></div>
<div class="b" style="left:713.80px;top:582.90px;width:12.20px;height:11.80px;background:rgba(213,124,245,0.19);border-radius:1.8px;"></div>
<svg class="ov" width="800" height="600" viewBox="0 0 800 600">
<g transform="translate(33.2,11)"><circle r="4.9" fill="#f0f0f0"/><g fill="none" stroke="#1c1c1f" stroke-width="0.55"><circle r="2.2"/><path d="M0,-4.9 L0,4.9 M-4.25,-2.45 L4.25,2.45 M4.25,-2.45 L-4.25,2.45"/></g></g>
<path d="M10.6,56.8 L13.6,53.8 L16.6,56.8 M11.5,56 V59.3 H15.7 V56 M12.9,59.3 V57.5 H14.3 V59.3" fill="none" stroke="#a3a3a8" stroke-width="0.8" stroke-linejoin="round"/>
<path d="M86.9,58 L88.6,56.3 L90.3,58" fill="none" stroke="#c8c8cc" stroke-width="0.8"/>
<path d="M87.1,365.40 L88.7,367.00 L90.3,365.40" fill="none" stroke="#b0b0b5" stroke-width="0.75"/>
<rect x="10.75" y="363.55" width="2.3" height="2.3" rx="0.7" fill="none" stroke="#a3a3a8" stroke-width="0.7"/><rect x="10.75" y="366.75" width="2.3" height="2.3" rx="0.7" fill="none" stroke="#a3a3a8" stroke-width="0.7"/><rect x="13.95" y="363.55" width="2.3" height="2.3" rx="0.7" fill="none" stroke="#a3a3a8" stroke-width="0.7"/><rect x="13.95" y="366.75" width="2.3" height="2.3" rx="0.7" fill="none" stroke="#a3a3a8" stroke-width="0.7"/>
<path d="M87.1,385.70 L88.7,387.30 L90.3,385.70" fill="none" stroke="#b0b0b5" stroke-width="0.75"/>
<path d="M10.9,385.3 L13.6,383.8 L16.3,385.3 L13.6,386.8 Z M10.9,387.2 L13.6,388.7 L16.3,387.2 M10.9,389 L13.6,390.5 L16.3,389" fill="none" stroke="#a3a3a8" stroke-width="0.7" stroke-linejoin="round"/>
<path d="M87.1,423.60 L88.7,425.20 L90.3,423.60" fill="none" stroke="#b0b0b5" stroke-width="0.75"/>
<rect x="10.9" y="423.2" width="5.4" height="4.4" rx="0.8" fill="none" stroke="#a3a3a8" stroke-width="0.7"/><path d="M12.1,423.2 V422.1 a1.5,1.5 0 0 1 3,0 V423.2" fill="none" stroke="#a3a3a8" stroke-width="0.7"/>
<path d="M87.1,444.10 L88.7,445.70 L90.3,444.10" fill="none" stroke="#b0b0b5" stroke-width="0.75"/>
<circle cx="13.6" cy="445" r="2.9" fill="none" stroke="#a3a3a8" stroke-width="0.7"/><path d="M13.6,443.5 V445.3 M13.6,446.1 V446.6" stroke="#a3a3a8" stroke-width="0.7"/>
<path d="M87.1,465.10 L88.7,466.70 L90.3,465.10" fill="none" stroke="#b0b0b5" stroke-width="0.75"/>
<rect x="10.6" y="463.7" width="6" height="4.7" rx="0.6" fill="none" stroke="#a3a3a8" stroke-width="0.7"/><rect x="12.2" y="465" width="2.8" height="2.1" fill="#a3a3a8"/>
<path d="M87.1,503.10 L88.7,504.70 L90.3,503.10" fill="none" stroke="#b0b0b5" stroke-width="0.75"/>
<rect x="10.6" y="501.7" width="6" height="4.7" rx="0.6" fill="none" stroke="#a3a3a8" stroke-width="0.7"/><path d="M12,503.3 H15.2 M12,504.8 H15.2" stroke="#a3a3a8" stroke-width="0.6"/>
<path d="M87.1,523.60 L88.7,525.20 L90.3,523.60" fill="none" stroke="#b0b0b5" stroke-width="0.75"/>
<rect x="10.6" y="522.2" width="6" height="4.7" rx="0.6" fill="none" stroke="#a3a3a8" stroke-width="0.7"/><path d="M10.6,523.7 H16.6" stroke="#a3a3a8" stroke-width="0.6"/>
<path d="M87.1,544.30 L88.7,545.90 L90.3,544.30" fill="none" stroke="#b0b0b5" stroke-width="0.75"/>
<path d="M11,548 L12.5,543.5 L16,542.5 L15,546 Z M11,548 L13.3,545.5" fill="none" stroke="#a3a3a8" stroke-width="0.7"/>
<path d="M87.1,565.30 L88.7,566.90 L90.3,565.30" fill="none" stroke="#b0b0b5" stroke-width="0.75"/>
<circle cx="13.6" cy="564.8" r="2.2" fill="none" stroke="#a3a3a8" stroke-width="0.7"/><path d="M12.4,566.8 L12,569.3 L13.6,568.5 L15.2,569.3 L14.8,566.8" fill="none" stroke="#a3a3a8" stroke-width="0.7"/>
<rect x="10.8" y="585.4" width="5.6" height="4" rx="0.5" fill="none" stroke="#a3a3a8" stroke-width="0.7"/><path d="M10.8,586.8 H16.4 M13.6,584.4 V589.4" stroke="#a3a3a8" stroke-width="0.6"/>
<path d="M177.3,8.6 H184.2 M177.3,11.4 H183.2 M177.3,14.2 H184.2" stroke="#a8a8ad" stroke-width="0.9"/>
<circle cx="322.3" cy="11.2" r="2.4" fill="none" stroke="#b5b5ba" stroke-width="0.8"/><path d="M324,12.9 L325.9,14.8" stroke="#b5b5ba" stroke-width="0.8" stroke-linecap="round"/>
<circle cx="584" cy="11.4" r="6.8" fill="#1c1c1f"/>
<circle cx="605.4" cy="11.4" r="6.8" fill="#1c1c1f"/>
<circle cx="626.6" cy="11.4" r="6.8" fill="#1c1c1f"/>
<circle cx="647.9" cy="11.4" r="6.8" fill="#1c1c1f"/>
<circle cx="669.4" cy="11.4" r="6.8" fill="#1c1c1f"/>
<path d="M581,9 h3.6 M582.8,8 v1 M581.6,9 q0.6,2.5 2.8,3.6 M584,9 q-0.6,2.5 -2.8,3.6" fill="none" stroke="#bdbdc2" stroke-width="0.6"/><path d="M584.2,14.6 l1.6,-4 l1.6,4 M584.8,13.2 h2" fill="none" stroke="#bdbdc2" stroke-width="0.7"/>
<path d="M602.6,10.6 q0,-1.8 1.8,-1.8 h0.4 q0.9,0 1.3,0.8 l0.3,0.4 h1.1 q1.6,0 1.6,1.6 v0.8 q0,1.7 -1.7,1.7 h-3.1 q-1.7,0 -1.7,-1.7 z" fill="none" stroke="#bdbdc2" stroke-width="0.7"/>
<path d="M623.6,9.2 h1 l0.9,3.6 h3.2 l0.7,-2.6 h-4.4 M625.6,12.8 l-0.4,1.2 M628.6,12.8 l0.3,1.2" fill="none" stroke="#bdbdc2" stroke-width="0.7"/>
<circle cx="630.9" cy="7.4" r="2.8" fill="#5c67f7"/><text x="630.9" y="9" font-size="4.2" fill="#fff" text-anchor="middle" font-family="Liberation Sans" font-weight="700">5</text>
<path d="M645.8,13.4 v-2.6 a2.1,2.1 0 0 1 4.2,0 v2.6 z M647.3,14.4 h1.2" fill="none" stroke="#bdbdc2" stroke-width="0.7"/><circle cx="650.2" cy="7.7" r="1.1" fill="#e27cf3"/>
<path d="M666.8,10.2 v-1.2 h1.2 M670.8,9 h1.2 v1.2 M672,12.6 v1.2 h-1.2 M668,13.8 h-1.2 v-1.2" fill="none" stroke="#bdbdc2" stroke-width="0.8"/>
<clipPath id="avc"><circle cx="689" cy="11.3" r="6"/></clipPath><g clip-path="url(#avc)"><rect x="682" y="4" width="14" height="14" fill="#f3845d"/><ellipse cx="689" cy="10.6" rx="2.8" ry="3.2" fill="#3a2418"/><ellipse cx="689" cy="11.4" rx="2.3" ry="2.6" fill="#d9a07a"/><path d="M684.5,18 q0,-3.6 4.5,-3.6 q4.5,0 4.5,3.6 z" fill="#34d058"/></g>
<circle cx="736.5" cy="11.4" r="6.6" fill="#1c1c1f"/><g fill="none" stroke="#bdbdc2" stroke-width="0.6"><path d="M736.5,8.2 l2.8,1.6 v3.2 l-2.8,1.6 l-2.8,-1.6 v-3.2 z"/><circle cx="736.5" cy="11.4" r="1.1"/></g>
<path d="M219.2,51.7 l1.4,1.4 l-1.4,1.4 M221,51.7 l1.4,1.4 l-1.4,1.4" fill="none" stroke="#a0a0a5" stroke-width="0.8"/>
<rect x="624.5" y="45" width="4.3" height="3.4" rx="0.4" fill="none" stroke="#6570f7" stroke-width="0.7"/><path d="M624.5,49.2 h4.3" stroke="#6570f7" stroke-width="0.6"/>
<path d="M688.5,49.6 a2.6,2.6 0 0 1 0.3,-3.3 a2.1,2.1 0 0 1 4.2,0 a2.6,2.6 0 0 1 0.3,3.3 z" fill="none" stroke="#d57cf5" stroke-width="0.7"/><circle cx="690.9" cy="47.9" r="0.8" fill="none" stroke="#d57cf5" stroke-width="0.5"/>
<g fill="none" stroke="#fff" stroke-width="0.7"><circle cx="198.4" cy="87.5" r="1.5"/><circle cx="201.8" cy="87.5" r="1.5"/><path d="M196,91.6 q0,-2.6 2.4,-2.6 q2.4,0 2.4,2.6 M200.4,91.6 q0,-2.6 2.4,-2.6 q2.4,0 2.4,2.6"/></g>
<defs><linearGradient id="g180" x1="0" y1="0" x2="0" y2="1"><stop offset="0" stop-color="#d57cf5" stop-opacity="0.22"/><stop offset="1" stop-color="#d57cf5" stop-opacity="0.02"/></linearGradient></defs>
<path d="M259.25,95.40 C259.85,95.16 259.39,96.02 262.25,94.20 C265.11,92.38 268.55,87.06 273.55,86.30 C278.55,85.54 282.41,91.36 287.25,90.40 C292.09,89.44 294.95,83.78 297.75,81.50 C300.55,79.22 300.55,79.50 301.25,79.00 L301.25,96 L259.25,96 Z" fill="url(#g180)"/><path d="M259.25,95.40 C259.85,95.16 259.39,96.02 262.25,94.20 C265.11,92.38 268.55,87.06 273.55,86.30 C278.55,85.54 282.41,91.36 287.25,90.40 C292.09,89.44 294.95,83.78 297.75,81.50 C300.55,79.22 300.55,79.50 301.25,79.00" fill="none" stroke="#d57cf5" stroke-opacity="0.85" stroke-width="1.1"/>
<path d="M278.15,127.6 l1.5,1.3 l0.8,-0.6 l1.5,1.5" fill="none" stroke="#f03e3e" stroke-width="0.65"/>
<path d="M339.2,89.1 v-2.4 h3.6 v4.6 h3.8 v-2.4" fill="none" stroke="#fff" stroke-width="0.8"/>
<defs><linearGradient id="g323" x1="0" y1="0" x2="0" y2="1"><stop offset="0" stop-color="#14d6ab" stop-opacity="0.22"/><stop offset="1" stop-color="#14d6ab" stop-opacity="0.02"/></linearGradient></defs>
<path d="M402.25,95.40 C402.85,95.16 402.39,96.02 405.25,94.20 C408.11,92.38 411.55,87.06 416.55,86.30 C421.55,85.54 425.41,91.36 430.25,90.40 C435.09,89.44 437.95,83.78 440.75,81.50 C443.55,79.22 443.55,79.50 444.25,79.00 L444.25,96 L402.25,96 Z" fill="url(#g323)"/><path d="M402.25,95.40 C402.85,95.16 402.39,96.02 405.25,94.20 C408.11,92.38 411.55,87.06 416.55,86.30 C421.55,85.54 425.41,91.36 430.25,90.40 C435.09,89.44 437.95,83.78 440.75,81.50 C443.55,79.22 443.55,79.50 444.25,79.00" fill="none" stroke="#14d6ab" stroke-opacity="0.85" stroke-width="1.1"/>
<path d="M420.2,130.4 l1.4,-1.3 l0.8,0.6 l1.5,-1.5" fill="none" stroke="#14d6ab" stroke-width="0.65"/>
<g fill="none" stroke="#fff" stroke-width="0.7"><rect x="482.9" y="87.0" width="7.2" height="5" rx="0.6"/><path d="M485.2,87.0 v-1.2 h2.6 v1.2 M482.9,89.2 h7.2"/></g>
<defs><linearGradient id="g466" x1="0" y1="0" x2="0" y2="1"><stop offset="0" stop-color="#fe7b58" stop-opacity="0.22"/><stop offset="1" stop-color="#fe7b58" stop-opacity="0.02"/></linearGradient></defs>
<path d="M545.75,95.40 C546.35,95.16 545.89,96.02 548.75,94.20 C551.61,92.38 555.05,87.06 560.05,86.30 C565.05,85.54 568.91,91.36 573.75,90.40 C578.59,89.44 581.45,83.78 584.25,81.50 C587.05,79.22 587.05,79.50 587.75,79.00 L587.75,96 L545.75,96 Z" fill="url(#g466)"/><path d="M545.75,95.40 C546.35,95.16 545.89,96.02 548.75,94.20 C551.61,92.38 555.05,87.06 560.05,86.30 C565.05,85.54 568.91,91.36 573.75,90.40 C578.59,89.44 581.45,83.78 584.25,81.50 C587.05,79.22 587.05,79.50 587.75,79.00" fill="none" stroke="#fe7b58" stroke-opacity="0.85" stroke-width="1.1"/>
<path d="M562.7,130.4 l1.4,-1.3 l0.8,0.6 l1.5,-1.5" fill="none" stroke="#14d6ab" stroke-width="0.65"/>
<path d="M652.8,106.6 l1.5,-1.4 l0.9,0.7 l1.7,-1.7" fill="none" stroke="#22d8b0" stroke-width="0.75"/>
<clipPath id="tec"><rect x="609" y="68" width="133" height="73.6" rx="3"/></clipPath>
<g clip-path="url(#tec)"><path d="M609.00,137.60 C611.55,137.15 621.35,136.04 626.00,134.60 C630.65,133.16 636.70,129.26 640.00,128.00 C643.30,126.74 645.00,126.73 648.00,126.20 C651.00,125.67 657.30,125.33 660.00,124.50 C662.70,123.67 663.75,121.56 666.00,120.70 C668.25,119.84 672.21,119.30 675.00,118.80 C677.79,118.30 682.05,118.42 684.60,117.40 C687.15,116.38 689.69,113.06 692.00,112.00 C694.31,110.94 697.60,110.84 700.00,110.30 C702.40,109.76 705.83,109.53 708.00,108.40 C710.17,107.28 712.81,103.89 714.50,102.80 C716.19,101.70 717.42,102.24 719.30,101.10 C721.17,99.96 725.10,96.34 727.00,95.20 C728.90,94.06 729.75,94.36 732.00,93.50 C734.25,92.64 740.50,90.10 742.00,89.50 L742,143 L609,143 Z" fill="#8a5ce8" fill-opacity="0.28"/><rect x="610.30" y="133.9" width="1.6" height="9.10" rx="0.5" fill="#ffffff" fill-opacity="0.62"/><rect x="613.98" y="135.2" width="1.6" height="7.80" rx="0.5" fill="#ffffff" fill-opacity="0.62"/><rect x="617.66" y="132.7" width="1.6" height="10.30" rx="0.5" fill="#ffffff" fill-opacity="0.62"/><rect x="621.34" y="133" width="1.6" height="10.00" rx="0.5" fill="#ffffff" fill-opacity="0.62"/><rect x="625.02" y="132" width="1.6" height="11.00" rx="0.5" fill="#ffffff" fill-opacity="0.62"/><rect x="628.70" y="133.5" width="1.6" height="9.50" rx="0.5" fill="#ffffff" fill-opacity="0.62"/><rect x="632.38" y="131.8" width="1.6" height="11.20" rx="0.5" fill="#ffffff" fill-opacity="0.62"/><rect x="636.06" y="130" width="1.6" height="13.00" rx="0.5" fill="#ffffff" fill-opacity="0.62"/><rect x="639.74" y="126.8" width="1.6" height="16.20" rx="0.5" fill="#ffffff" fill-opacity="0.62"/><rect x="643.42" y="118" width="1.6" height="25.00" rx="0.5" fill="#ffffff" fill-opacity="0.62"/><rect x="647.10" y="120" width="1.6" height="23.00" rx="0.5" fill="#ffffff" fill-opacity="0.62"/><rect x="650.78" y="123" width="1.6" height="20.00" rx="0.5" fill="#ffffff" fill-opacity="0.62"/><rect x="654.46" y="123.3" width="1.6" height="19.70" rx="0.5" fill="#ffffff" fill-opacity="0.62"/><rect x="658.14" y="130" width="1.6" height="13.00" rx="0.5" fill="#ffffff" fill-opacity="0.62"/><rect x="661.82" y="122" width="1.6" height="21.00" rx="0.5" fill="#ffffff" fill-opacity="0.62"/><rect x="665.50" y="117" width="1.6" height="26.00" rx="0.5" fill="#ffffff" fill-opacity="0.62"/><rect x="669.18" y="130.3" width="1.6" height="12.70" rx="0.5" fill="#ffffff" fill-opacity="0.62"/><rect x="672.86" y="122.8" width="1.6" height="20.20" rx="0.5" fill="#ffffff" fill-opacity="0.62"/><rect x="676.54" y="120.3" width="1.6" height="22.70" rx="0.5" fill="#ffffff" fill-opacity="0.62"/><rect x="680.22" y="123.3" width="1.6" height="19.70" rx="0.5" fill="#ffffff" fill-opacity="0.62"/><rect x="683.90" y="116.8" width="1.6" height="26.20" rx="0.5" fill="#ffffff" fill-opacity="0.62"/><rect x="687.58" y="112.3" width="1.6" height="30.70" rx="0.5" fill="#ffffff" fill-opacity="0.62"/><rect x="691.26" y="108.4" width="1.6" height="34.60" rx="0.5" fill="#ffffff" fill-opacity="0.62"/><rect x="694.94" y="112.3" width="1.6" height="30.70" rx="0.5" fill="#ffffff" fill-opacity="0.62"/><rect x="698.62" y="129.3" width="1.6" height="13.70" rx="0.5" fill="#ffffff" fill-opacity="0.62"/><rect x="702.30" y="135.8" width="1.6" height="7.20" rx="0.5" fill="#ffffff" fill-opacity="0.62"/><rect x="705.98" y="129.8" width="1.6" height="13.20" rx="0.5" fill="#ffffff" fill-opacity="0.62"/><rect x="709.66" y="127.1" width="1.6" height="15.90" rx="0.5" fill="#ffffff" fill-opacity="0.62"/><rect x="713.34" y="134.7" width="1.6" height="8.30" rx="0.5" fill="#ffffff" fill-opacity="0.62"/><rect x="717.02" y="129.8" width="1.6" height="13.20" rx="0.5" fill="#ffffff" fill-opacity="0.62"/><rect x="720.70" y="122" width="1.6" height="21.00" rx="0.5" fill="#ffffff" fill-opacity="0.62"/><rect x="724.38" y="130" width="1.6" height="13.00" rx="0.5" fill="#ffffff" fill-opacity="0.62"/><rect x="728.06" y="117.9" width="1.6" height="25.10" rx="0.5" fill="#ffffff" fill-opacity="0.62"/><rect x="731.74" y="129.8" width="1.6" height="13.20" rx="0.5" fill="#ffffff" fill-opacity="0.62"/><rect x="735.42" y="117.6" width="1.6" height="25.40" rx="0.5" fill="#ffffff" fill-opacity="0.62"/><rect x="739.10" y="123" width="1.6" height="20.00" rx="0.5" fill="#ffffff" fill-opacity="0.62"/><path d="M609.00,137.60 C611.55,137.15 621.35,136.04 626.00,134.60 C630.65,133.16 636.70,129.26 640.00,128.00 C643.30,126.74 645.00,126.73 648.00,126.20 C651.00,125.67 657.30,125.33 660.00,124.50 C662.70,123.67 663.75,121.56 666.00,120.70 C668.25,119.84 672.21,119.30 675.00,118.80 C677.79,118.30 682.05,118.42 684.60,117.40 C687.15,116.38 689.69,113.06 692.00,112.00 C694.31,110.94 697.60,110.84 700.00,110.30 C702.40,109.76 705.83,109.53 708.00,108.40 C710.17,107.28 712.81,103.89 714.50,102.80 C716.19,101.70 717.42,102.24 719.30,101.10 C721.17,99.96 725.10,96.34 727.00,95.20 C728.90,94.06 729.75,94.36 732.00,93.50 C734.25,92.64 740.50,90.10 742.00,89.50" fill="none" stroke="#e27cf3" stroke-width="0.9"/></g>
<path d="M582.20,166.70 l1.6,1.4 l1.6,-1.4" fill="none" stroke="#8e8e94" stroke-width="0.6"/>
<circle cx="362.5" cy="191.4" r="2.6" fill="#5c6cfa"/><circle cx="398" cy="191.4" r="2.6" fill="#d57cf5"/>
<path d="M213.80,277.75 C228.67,277.30 231.98,275.57 246.85,274.89 C261.72,274.22 265.03,270.14 279.90,269.19 C294.77,268.23 298.08,263.44 312.95,262.77 C327.82,262.09 331.13,261.30 346.00,260.63 C360.87,259.95 364.18,255.05 379.05,254.21 C393.92,253.36 397.23,250.88 412.10,249.93 C426.97,248.97 430.28,243.15 445.15,242.08 C460.02,241.01 463.33,237.55 478.20,236.37 C493.07,235.19 496.38,228.90 511.25,227.10 C526.12,225.30 529.43,215.18 544.30,213.55 C559.17,211.92 562.48,207.54 577.35,206.41 L577.35,302.0 L213.80,302.0 Z" fill="#c77dee" fill-opacity="0.2"/>
<path d="M213.80,277.75 C228.67,277.30 231.98,275.57 246.85,274.89 C261.72,274.22 265.03,270.14 279.90,269.19 C294.77,268.23 298.08,263.44 312.95,262.77 C327.82,262.09 331.13,261.30 346.00,260.63 C360.87,259.95 364.18,255.05 379.05,254.21 C393.92,253.36 397.23,250.88 412.10,249.93 C426.97,248.97 430.28,243.15 445.15,242.08 C460.02,241.01 463.33,237.55 478.20,236.37 C493.07,235.19 496.38,228.90 511.25,227.10 C526.12,225.30 529.43,215.18 544.30,213.55 C559.17,211.92 562.48,207.54 577.35,206.41" fill="none" stroke="#a566c9" stroke-width="0.9"/>
<rect x="210.70" y="289.16" width="6.2" height="12.84" rx="1.2" fill="#5c6cfa"/>
<rect x="243.75" y="285.59" width="6.2" height="16.41" rx="1.2" fill="#5c6cfa"/>
<rect x="276.80" y="282.03" width="6.2" height="19.97" rx="1.2" fill="#5c6cfa"/>
<rect x="309.85" y="276.32" width="6.2" height="25.68" rx="1.2" fill="#5c6cfa"/>
<rect x="342.90" y="270.61" width="6.2" height="31.39" rx="1.2" fill="#5c6cfa"/>
<rect x="375.95" y="265.26" width="6.2" height="36.74" rx="1.2" fill="#5c6cfa"/>
<rect x="409.00" y="258.84" width="6.2" height="43.16" rx="1.2" fill="#5c6cfa"/>
<rect x="442.05" y="252.07" width="6.2" height="49.93" rx="1.2" fill="#5c6cfa"/>
<rect x="475.10" y="248.50" width="6.2" height="53.50" rx="1.2" fill="#5c6cfa"/>
<rect x="508.15" y="239.94" width="6.2" height="62.06" rx="1.2" fill="#5c6cfa"/>
<rect x="541.20" y="237.80" width="6.2" height="64.20" rx="1.2" fill="#5c6cfa"/>
<rect x="574.25" y="231.38" width="6.2" height="70.62" rx="1.2" fill="#5c6cfa"/>
<path d="M725.50,166.70 l1.6,1.4 l1.6,-1.4" fill="none" stroke="#8e8e94" stroke-width="0.6"/>
<circle cx="675.9" cy="235.6" r="9.30" fill="none" stroke="#313135" stroke-width="0.6"/>
<circle cx="675.9" cy="235.6" r="18.60" fill="none" stroke="#313135" stroke-width="0.6"/>
<circle cx="675.9" cy="235.6" r="27.90" fill="none" stroke="#313135" stroke-width="0.6"/>
<circle cx="675.9" cy="235.6" r="37.20" fill="none" stroke="#313135" stroke-width="0.6"/>
<circle cx="675.9" cy="235.6" r="46.50" fill="none" stroke="#313135" stroke-width="0.6"/>
<path d="M675.9,235.6 L675.90,189.10" stroke="#313135" stroke-width="0.6"/>
<path d="M675.9,235.6 L716.17,212.35" stroke="#313135" stroke-width="0.6"/>
<path d="M675.9,235.6 L716.17,258.85" stroke="#313135" stroke-width="0.6"/>
<path d="M675.9,235.6 L675.90,282.10" stroke="#313135" stroke-width="0.6"/>
<path d="M675.9,235.6 L635.63,258.85" stroke="#313135" stroke-width="0.6"/>
<path d="M675.9,235.6 L635.63,212.35" stroke="#313135" stroke-width="0.6"/>
<path d="M675.9,235.6 L675.90,209.75 A25.85,25.85 0 0 1 698.29,222.67 Z" fill="#5c6cfa" stroke="#1c1c1f" stroke-width="0.6"/>
<path d="M675.9,235.6 L713.11,214.12 A42.97,42.97 0 0 1 713.11,257.08 Z" fill="#d57cf5" stroke="#1c1c1f" stroke-width="0.6"/>
<path d="M675.9,235.6 L710.05,255.32 A39.43,39.43 0 0 1 675.90,275.03 Z" fill="#14d6ab" stroke="#1c1c1f" stroke-width="0.6"/>
<path d="M675.9,235.6 L675.90,267.22 A31.62,31.62 0 0 1 648.52,251.41 Z" fill="#fe7b58" stroke="#1c1c1f" stroke-width="0.6"/>
<path d="M675.9,235.6 L652.06,249.36 A27.53,27.53 0 0 1 652.06,221.84 Z" fill="#0ea5e9" stroke="#1c1c1f" stroke-width="0.6"/>
<path d="M675.9,235.6 L660.28,226.58 A18.04,18.04 0 0 1 675.90,217.56 Z" fill="#f5a331" stroke="#1c1c1f" stroke-width="0.6"/>
<text x="676.1999999999999" y="210.30" font-size="5" fill="#d8d8dc" text-anchor="middle" font-family="Liberation Sans">15</text>
<text x="676.1999999999999" y="201.00" font-size="5" fill="#d8d8dc" text-anchor="middle" font-family="Liberation Sans">20</text>
<text x="676.1999999999999" y="191.70" font-size="5" fill="#d8d8dc" text-anchor="middle" font-family="Liberation Sans">25</text>
<circle cx="632.1" cy="297.2" r="2.6" fill="#5c6cfa"/>
<circle cx="685" cy="297.2" r="2.6" fill="#d57cf5"/>
<circle cx="634.7" cy="307.7" r="2.6" fill="#14d6ab"/>
<circle cx="680.5" cy="307.7" r="2.6" fill="#fe7b58"/>
<circle cx="647.5" cy="318.25" r="2.6" fill="#0ea5e9"/>
<circle cx="683" cy="318.25" r="2.6" fill="#f5a331"/>
<path d="M295.50,353.90 l1.6,1.4 l1.6,-1.4" fill="none" stroke="#8e8e94" stroke-width="0.6"/>
<rect x="294.2" y="375.6" width="6.9" height="5.4" fill="#5d6570"/><path d="M294.2,377.4 h6.9 M294.2,379.2 h6.9" stroke="#1c1c1f" stroke-width="0.5"/>
<path d="M208,385.6 H300" stroke="#3a3a3e" stroke-width="0.6" stroke-dasharray="1.2,1.4"/>
<path d="M208,412.45 H300" stroke="#3a3a3e" stroke-width="0.6" stroke-dasharray="1.2,1.4"/>
<path d="M208,439.3 H300" stroke="#3a3a3e" stroke-width="0.6" stroke-dasharray="1.2,1.4"/>
<path d="M208,466.15 H300" stroke="#3a3a3e" stroke-width="0.6" stroke-dasharray="1.2,1.4"/>
<path d="M208,493.0 H300" stroke="#3a3a3e" stroke-width="0.6" stroke-dasharray="1.2,1.4"/>
<rect x="215.20" y="476.3" width="9.4" height="16.70" rx="1.2" fill="#5c6cfa"/>
<rect x="238.30" y="434.2" width="9.4" height="58.80" rx="1.2" fill="#d57cf5"/>
<rect x="261.30" y="420.5" width="9.4" height="72.50" rx="1.2" fill="#14d6ab"/>
<rect x="284.50" y="404.1" width="9.4" height="88.90" rx="1.2" fill="#fe7b58"/>
<path d="M585.5,353.7 h3.4 M587.6,352.4 l1.3,1.3 l-1.3,1.3" fill="none" stroke="#8e8e94" stroke-width="0.6"/>
<path d="M334.6,394.29999999999995 l1.6,2.6 M336,396.9 h1.4" stroke="#fff" stroke-width="0.6" fill="none"/>
<path d="M334.4,439.30 h3.8 v2.6 h-1.4 l-0.5,0.9 l-0.5,-0.9 h-1.4 z" stroke="#fff" stroke-width="0.6" fill="none"/>
<path d="M729.3,353.7 h3.4 M731.4,352.4 l1.3,1.3 l-1.3,1.3" fill="none" stroke="#8e8e94" stroke-width="0.6"/>
<path d="M714.2,378.00 l1.6,-1.5 l0.9,0.7 l1.8,-1.7" fill="none" stroke="#14d6ab" stroke-width="0.75"/>
<clipPath id="fc0"><circle cx="619.65" cy="376.6" r="4.65"/></clipPath>
<g clip-path="url(#fc0)"><rect x="614.65" y="371.6" width="10" height="10" fill="#f3c1c6"/><rect x="614.65" y="371.60" width="10" height="0.72" fill="#e0707e"/><rect x="614.65" y="373.05" width="10" height="0.72" fill="#e0707e"/><rect x="614.65" y="374.50" width="10" height="0.72" fill="#e0707e"/><rect x="614.65" y="375.95" width="10" height="0.72" fill="#e0707e"/><rect x="614.65" y="377.40" width="10" height="0.72" fill="#e0707e"/><rect x="614.65" y="378.85" width="10" height="0.72" fill="#e0707e"/><rect x="614.65" y="380.30" width="10" height="0.72" fill="#e0707e"/><rect x="614.65" y="371.6" width="5" height="4.6" fill="#6a77c9"/></g>
<path d="M714.2,399.98 l1.6,-1.5 l0.9,0.7 l1.8,-1.7" fill="none" stroke="#14d6ab" stroke-width="0.75"/>
<clipPath id="fc1"><circle cx="619.65" cy="398.58000000000004" r="4.65"/></clipPath>
<g clip-path="url(#fc1)"><rect x="614.65" y="393.58000000000004" width="10" height="3.4" fill="#f4f4f4"/><rect x="614.65" y="396.98" width="10" height="3.3" fill="#2456d6"/><rect x="614.65" y="400.28000000000003" width="10" height="3.4" fill="#e6383f"/></g>
<path d="M714.2,419.56 l1.6,1.5 l0.9,-0.7 l1.8,1.7" fill="none" stroke="#f04848" stroke-width="0.75"/>
<clipPath id="fc2"><circle cx="619.65" cy="420.56" r="4.65"/></clipPath>
<g clip-path="url(#fc2)"><rect x="614.65" y="415.56" width="10" height="3.4" fill="#3a3a3a"/><rect x="614.65" y="418.96" width="10" height="3.3" fill="#dd2c2c"/><rect x="614.65" y="422.26" width="10" height="3.4" fill="#f8c623"/></g>
<path d="M714.2,443.94 l1.6,-1.5 l0.9,0.7 l1.8,-1.7" fill="none" stroke="#14d6ab" stroke-width="0.75"/>
<clipPath id="fc3"><circle cx="619.65" cy="442.54" r="4.65"/></clipPath>
<g clip-path="url(#fc3)"><rect x="614.65" y="437.54" width="3.4" height="10" fill="#2aa84a"/><rect x="618.05" y="437.54" width="3.3" height="10" fill="#f4f4f4"/><rect x="621.35" y="437.54" width="3.4" height="10" fill="#e6383f"/></g>
<path d="M714.2,465.92 l1.6,-1.5 l0.9,0.7 l1.8,-1.7" fill="none" stroke="#14d6ab" stroke-width="0.75"/>
<clipPath id="fc4"><circle cx="619.65" cy="464.52000000000004" r="4.65"/></clipPath>
<g clip-path="url(#fc4)"><rect x="614.65" y="459.52000000000004" width="10" height="3.4" fill="#2aa84a"/><rect x="614.65" y="462.92" width="10" height="3.3" fill="#f4f4f4"/><rect x="614.65" y="466.22" width="10" height="3.4" fill="#222"/><rect x="614.65" y="459.52000000000004" width="3.3" height="10" fill="#e6383f"/></g>
<path d="M714.2,485.50 l1.6,1.5 l0.9,-0.7 l1.8,1.7" fill="none" stroke="#f04848" stroke-width="0.75"/>
<clipPath id="fc5"><circle cx="619.65" cy="486.5" r="4.65"/></clipPath>
<g clip-path="url(#fc5)"><rect x="614.65" y="481.5" width="10" height="10" fill="#e6383f"/><rect x="614.65" y="484.1" width="10" height="4.8" fill="#f8c623"/><rect x="616.85" y="485.2" width="1.6" height="2.4" fill="#c0392b"/></g>
<path d="M714.2,509.88 l1.6,-1.5 l0.9,0.7 l1.8,-1.7" fill="none" stroke="#14d6ab" stroke-width="0.75"/>
<clipPath id="fc6"><circle cx="619.65" cy="508.48" r="4.65"/></clipPath>
<g clip-path="url(#fc6)"><rect x="614.65" y="503.48" width="10" height="10" fill="#7cc4f2"/><rect x="614.65" y="506.88" width="10" height="3.3" fill="#f4f4f4"/><circle cx="619.65" cy="508.48" r="0.9" fill="#f8c623"/></g>
<path d="M724.6,545.1 l1.5,1.4 l1.5,-1.4" fill="none" stroke="#fff" stroke-width="0.65"/>
<clipPath id="srav"><rect x="311.75" y="584.3" width="8.8" height="8.8" rx="1.5"/></clipPath><g clip-path="url(#srav)"><rect x="311" y="584" width="10" height="10" fill="#e0594a"/><circle cx="316.1" cy="588" r="2" fill="#3a2418"/><circle cx="316.1" cy="588.6" r="1.6" fill="#d9a07a"/><path d="M312.2,594 q0,-3 3.9,-3 q3.9,0 3.9,3 z" fill="#4f6fd8"/></g>
<path d="M702.4,589.8 v1.5 h4.6 v-1.5 M704.7,586.2 v3.6 M703.4,588.5 l1.3,1.3 l1.3,-1.3" fill="none" stroke="#14d6ab" stroke-width="0.65"/>
<path d="M717.6,591.6 l0.4,-1.6 l3.4,-3.4 l1.2,1.2 l-3.4,3.4 z M717.2,592.2 h5.2" fill="none" stroke="#d57cf5" stroke-width="0.65"/>
</svg>
</body></html>
